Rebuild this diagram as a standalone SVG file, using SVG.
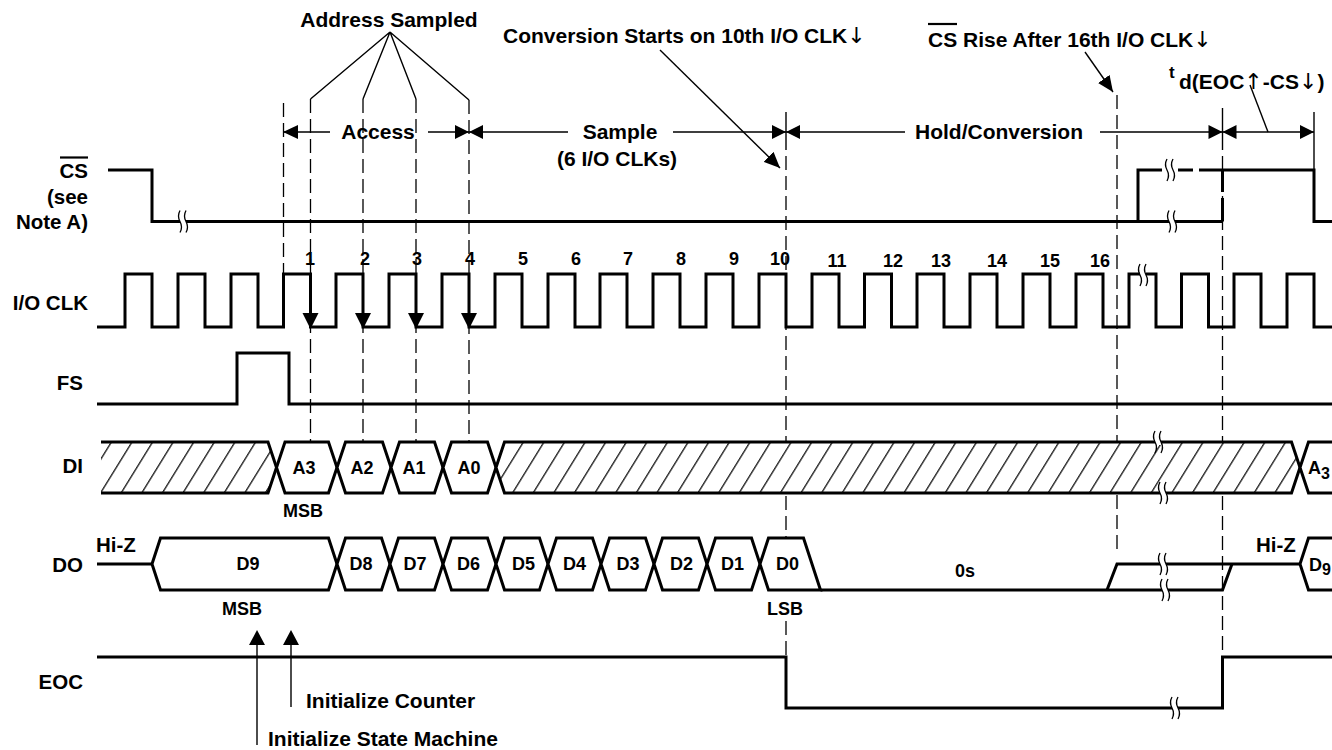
<svg xmlns="http://www.w3.org/2000/svg" width="1332" height="750" viewBox="0 0 1332 750">
<style>
.sig{fill:none;stroke:#000;stroke-width:3;stroke-linejoin:miter;stroke-linecap:butt}
.box{fill:#fff;stroke:#000;stroke-width:3;stroke-linejoin:miter}
.hb{fill:url(#hatch);stroke:none}
.thin{fill:none;stroke:#000;stroke-width:1.4}
.dash{fill:none;stroke:#000;stroke-width:1.3;stroke-dasharray:14 6}
.ah{fill:#000;stroke:none}
text{font-family:"Liberation Sans",Arial,Helvetica,sans-serif;font-weight:bold;fill:#000}
.lbl{font-size:20.5px}
.ann{font-size:21px}
.t18{font-size:18px}
.mid{text-anchor:middle}
.end{text-anchor:end}
.arw{font-family:"DejaVu Sans",sans-serif;font-weight:normal;font-size:22px}
</style>
<defs>
<pattern id="hatch" patternUnits="userSpaceOnUse" width="20.6" height="20" patternTransform="skewX(-31.7)">
<rect width="20.6" height="20" fill="#fff"/>
<line x1="13.6" y1="-1" x2="13.6" y2="21" stroke="#000" stroke-width="1.4"/>
</pattern>
<g id="brk">
<rect x="-3" y="-3" width="6" height="6" fill="#fff"/>
<path d="M-3,-11 q-3,5.5 0,11 q3,5.5 0,11 M3,-11 q-3,5.5 0,11 q3,5.5 0,11" fill="none" stroke="#000" stroke-width="1.3"/>
</g>
<marker id="arr" markerUnits="userSpaceOnUse" markerWidth="17" markerHeight="14" refX="16" refY="7" orient="auto">
<path d="M0,0 L16,7 L0,14 Z" fill="#000"/>
</marker>
</defs>
<rect width="1332" height="750" fill="#fff"/>

<g id="connectors">
<line class="dash" x1="283.5" y1="103" x2="283.5" y2="273"/>
<line class="dash" x1="310.5" y1="99" x2="310.5" y2="441"/>
<line class="dash" x1="363" y1="99" x2="363" y2="441"/>
<line class="dash" x1="416" y1="99" x2="416" y2="441"/>
<line class="dash" x1="469" y1="100" x2="469" y2="441"/>
<line class="thin" x1="786" y1="112" x2="786" y2="150"/>
<line class="dash" x1="786" y1="156" x2="786" y2="537"/>
<line class="dash" x1="786" y1="621" x2="786" y2="657"/>
<line class="dash" x1="1117" y1="95" x2="1117" y2="550"/>
<line class="thin" x1="1222.5" y1="108" x2="1222.5" y2="150"/>
<line class="dash" x1="1222.5" y1="156" x2="1222.5" y2="657"/>
<line class="thin" x1="1314" y1="112" x2="1314" y2="170"/>
<path class="thin" d="M390,32 L310.5,99 M390,32 L363,99 M390,32 L416,99 M390,32 L469,100"/>
<path class="thin" d="M283,132 H330 M428,132 H469 M469,132 H568 M673,132 H786 M786,132 H905 M1100,132 H1222.5 M1222.5,132 H1314"/>
<polygon class="ah" points="283,132 298,125 298,139"/>
<polygon class="ah" points="455,125 455,139 469,132"/>
<polygon class="ah" points="483,125 483,139 469,132"/>
<polygon class="ah" points="772,125 772,139 786,132"/>
<polygon class="ah" points="800,125 800,139 786,132"/>
<polygon class="ah" points="1208.5,125 1208.5,139 1222.5,132"/>
<polygon class="ah" points="1236.5,125 1236.5,139 1222.5,132"/>
<polygon class="ah" points="1300,125 1300,139 1314,132"/>
<line class="thin" x1="660" y1="50" x2="780" y2="168" marker-end="url(#arr)"/>
<line class="thin" x1="1085" y1="52" x2="1113" y2="92" marker-end="url(#arr)"/>
<line class="thin" x1="1250" y1="85" x2="1268" y2="132"/>
<line class="thin" x1="257" y1="644" x2="257" y2="745"/>
<polygon class="ah" points="257,630 249,645 265,645"/>
<line class="thin" x1="291" y1="644" x2="291" y2="707"/>
<polygon class="ah" points="291,630 283,645 299,645"/>
</g>

<g id="annotations">
<text class="ann mid" x="389" y="27">Address Sampled</text>
<text class="ann" x="503" y="43">Conversion Starts on 10th I/O CLK<tspan class="arw">↓</tspan></text>
<text class="ann" x="928" y="47">CS Rise After 16th I/O CLK<tspan class="arw">↓</tspan></text>
<line x1="928" y1="24" x2="957" y2="24" stroke="#000" stroke-width="2.2"/>
<text x="1169" y="78" style="font-size:17px">t</text>
<text class="ann" x="1179" y="89">d(EOC<tspan class="arw">↑</tspan>-CS<tspan class="arw">↓</tspan>)</text>
<text class="ann mid" x="378" y="139">Access</text>
<text class="ann mid" x="620" y="139">Sample</text>
<text class="ann mid" x="617" y="166">(6 I/O CLKs)</text>
<text class="ann mid" x="999" y="139">Hold/Conversion</text>
<text class="ann" x="306" y="708">Initialize Counter</text>
<text class="ann" x="268" y="746">Initialize State Machine</text>
</g>

<g id="sig-cs">
<text class="lbl end" x="88" y="178">CS</text>
<line x1="60" y1="157.5" x2="88" y2="157.5" stroke="#000" stroke-width="2.2"/>
<text class="lbl end" x="88" y="204">(see</text>
<text class="lbl end" x="88" y="229">Note A)</text>
<path class="sig" d="M108,170 H152 V221.5 H1138 V170 H1162"/>
<path class="sig" d="M1138,221.5 H1222.5"/>
<path class="sig" d="M1178,170 H1193 M1199,170 H1314 V221.5 H1332"/>
<path class="sig" d="M1222.5,170 V221.5" style="stroke-dasharray:22 6 30"/>
<use href="#brk" x="183" y="221.5"/>
<use href="#brk" x="1170" y="170"/>
<use href="#brk" x="1172" y="221.5"/>
</g>

<g id="sig-clk">
<text class="lbl end" x="88" y="310">I/O CLK</text>
<path class="sig" d="M97,327 H125 V274 H152 V327 H178 V274 H205 V327 H231 V274 H258 V327 H283.5 V274 H310.5 V327 H336 V274 H363 V327 H389 V274 H416 V327 H442 V274 H469 V327 H495 V274 H522 V327 H548 V274 H575 V327 H600 V274 H627 V327 H653 V274 H680 V327 H706 V274 H733 V327 H759 V274 H786 V327 H812 V274 H839 V327 H864.5 V274 H891.5 V327 H917 V274 H944 V327 H970 V274 H997 V327 H1023 V274 H1050 V327 H1076 V274 H1103 V327 H1129 V274 H1156 V327 H1181.5 V274 H1208.5 V327 H1234 V274 H1261 V327 H1287 V274 H1314 V327 H1332"/>
<polygon class="ah" points="302.5,313 318.5,313 310.5,329"/>
<polygon class="ah" points="355,313 371,313 363,329"/>
<polygon class="ah" points="408,313 424,313 416,329"/>
<polygon class="ah" points="461,313 477,313 469,329"/>
<use href="#brk" x="1143" y="275"/>
<g class="t18 mid">
<text x="310" y="265">1</text>
<text x="365" y="265">2</text>
<text x="417" y="265">3</text>
<text x="470" y="265">4</text>
<text x="523" y="265">5</text>
<text x="576" y="265">6</text>
<text x="628" y="265">7</text>
<text x="681" y="265">8</text>
<text x="734" y="265">9</text>
<text x="780" y="265">10</text>
<text x="837" y="267">11</text>
<text x="893" y="267">12</text>
<text x="941" y="267">13</text>
<text x="997" y="267">14</text>
<text x="1050" y="267">15</text>
<text x="1100" y="267">16</text>
</g>
</g>

<g id="sig-fs">
<text class="lbl end" x="83" y="390">FS</text>
<path class="sig" d="M97,404 H237 V353 H289 V404 H1332"/>
</g>

<g id="sig-di">
<text class="lbl end" x="83" y="473">DI</text>
<path class="hb" d="M101,442 H268 L276.5,467.5 L268,493 H101 Z"/>
<path class="sig" d="M101,442 H268 L276.5,467.5 L268,493 H101"/>
<path class="box" d="M276.5,467.5 L285,442 H328.5 L337,467.5 L328.5,493 H285 Z"/>
<path class="box" d="M337,467.5 L345.5,442 H382.5 L391,467.5 L382.5,493 H345.5 Z"/>
<path class="box" d="M391,467.5 L399.5,442 H434.5 L443,467.5 L434.5,493 H399.5 Z"/>
<path class="box" d="M443,467.5 L451.5,442 H487.5 L496,467.5 L487.5,493 H451.5 Z"/>
<path class="hb" d="M496,467.5 L504.5,442 H1291.5 L1300,467.5 L1291.5,493 H504.5 Z"/>
<path class="sig" d="M496,467.5 L504.5,442 H1291.5 L1300,467.5 L1291.5,493 H504.5 Z"/>
<path d="M1300,467.5 L1308.5,442 H1334 V493 H1308.5 Z" fill="#fff"/>
<path class="sig" d="M1334,442 H1308.5 L1300,467.5 L1308.5,493 H1334"/>
<use href="#brk" x="1158" y="442"/>
<use href="#brk" x="1163" y="493"/>
<g class="t18 mid">
<text x="304" y="474">A3</text>
<text x="362" y="474">A2</text>
<text x="414" y="474">A1</text>
<text x="469" y="474">A0</text>
</g>
<text class="t18" x="1308" y="474">A<tspan dy="5" style="font-size:16px">3</tspan></text>
<text class="t18 mid" x="303" y="517">MSB</text>
</g>

<g id="sig-do">
<text class="lbl end" x="83" y="572">DO</text>
<text class="lbl" x="96" y="552">Hi-Z</text>
<path class="sig" d="M97,564 H152"/>
<path class="box" d="M152,564 L160.5,538 H328.5 L337,564 L328.5,590 H160.5 Z"/>
<path class="box" d="M337,564 L345.5,538 H381.5 L390,564 L381.5,590 H345.5 Z"/>
<path class="box" d="M390,564 L398.5,538 H434.5 L443,564 L434.5,590 H398.5 Z"/>
<path class="box" d="M443,564 L451.5,538 H487.5 L496,564 L487.5,590 H451.5 Z"/>
<path class="box" d="M496,564 L504.5,538 H539.5 L548,564 L539.5,590 H504.5 Z"/>
<path class="box" d="M548,564 L556.5,538 H592.5 L601,564 L592.5,590 H556.5 Z"/>
<path class="box" d="M601,564 L609.5,538 H645.5 L654,564 L645.5,590 H609.5 Z"/>
<path class="box" d="M654,564 L662.5,538 H698.5 L707,564 L698.5,590 H662.5 Z"/>
<path class="box" d="M707,564 L715.5,538 H751.5 L760,564 L751.5,590 H715.5 Z"/>
<path class="box" d="M760,564 L768.5,538 H803.5 L820.5,590 H768.5 Z"/>
<path class="sig" d="M820.5,590 H1222.5 L1232,564"/>
<path class="sig" d="M1107,590 L1117,564 H1300"/>
<path d="M1300,564 L1308.5,538 H1334 V590 H1308.5 Z" fill="#fff"/>
<path class="sig" d="M1334,538 H1308.5 L1300,564 L1308.5,590 H1334"/>
<use href="#brk" x="1163" y="564"/>
<use href="#brk" x="1165" y="590"/>
<g class="t18 mid">
<text x="248" y="570">D9</text>
<text x="361" y="570">D8</text>
<text x="415" y="570">D7</text>
<text x="468.5" y="570">D6</text>
<text x="523.5" y="570">D5</text>
<text x="574.5" y="570">D4</text>
<text x="628" y="570">D3</text>
<text x="681.5" y="570">D2</text>
<text x="732.5" y="570">D1</text>
<text x="787.5" y="570">D0</text>
<text x="965" y="577">0s</text>
<text x="242" y="615">MSB</text>
<text x="785" y="615">LSB</text>
</g>
<text class="lbl" x="1256" y="552">Hi-Z</text>
<text class="t18" x="1309" y="571">D<tspan dy="4" style="font-size:16px">9</tspan></text>
</g>

<g id="sig-eoc">
<text class="lbl end" x="83" y="689">EOC</text>
<path class="sig" d="M97,657 H786 V708 H1222.5 V657 H1332"/>
<use href="#brk" x="1175" y="708"/>
</g>
</svg>
